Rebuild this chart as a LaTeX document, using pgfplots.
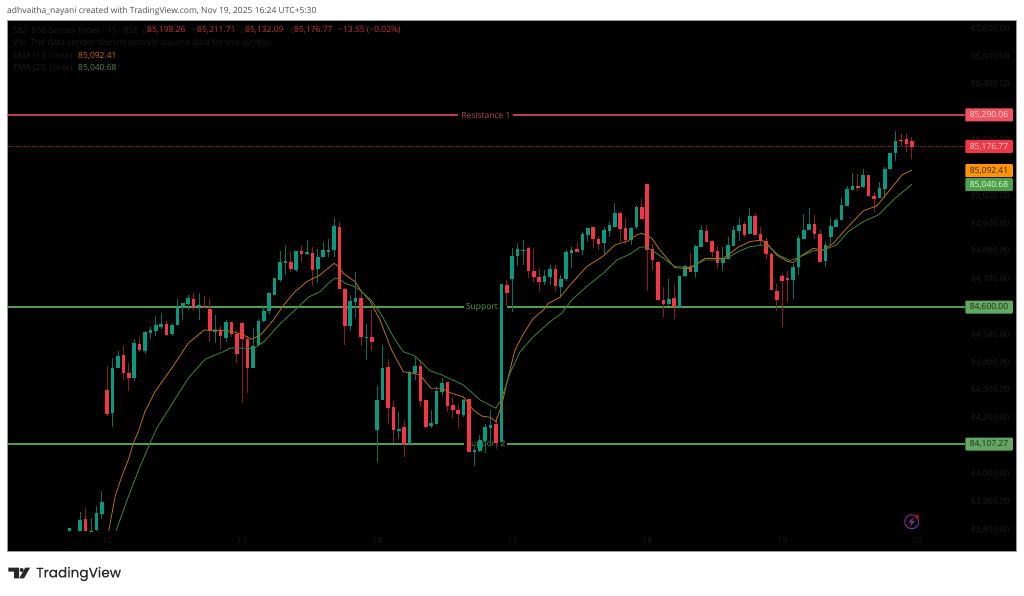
\documentclass[border=0pt]{standalone}
\usepackage{fontspec}
\usepackage{pgfplots}
\usepackage{pgfplotstable}
\pgfplotsset{compat=1.18}
\setmainfont{Open Sans}
\newfontfamily\tvfont[FakeBold=0.25]{Poppins}

\definecolor{upbody}{HTML}{089981}
\definecolor{upwick}{HTML}{0A6E5E}
\definecolor{dnbody}{HTML}{F23645}
\definecolor{dnwick}{HTML}{8E1A28}
\definecolor{emaA}{HTML}{B0690F}
\definecolor{emaB}{HTML}{3C7D36}
\definecolor{resline}{HTML}{C23A4E}
\definecolor{supline}{HTML}{4F9F4F}
\definecolor{dim}{HTML}{1C1C1C}
\definecolor{badge}{HTML}{7B2A8F}

% x = bar number (15 min bars, 25 a day, 0 = open of the 12th)
\pgfplotstableread{
x o h l c
-7 83795 83806 83795 83806
-5 83795 83864 83795 83837
-3 83795 83843 83795 83798
-2 83801 83885 83795 83862
-1 83856 83938 83837 83900
1 84220 84416 84168 84381
2 84381 84443 84381 84424
5 84344 84484 84335 84472
7 84443 84515 84431 84511
8 84509 84529 84485 84517
9 84514 84568 84498 84535
10 84531 84577 84521 84542
12 84503 84544 84496 84535
13 84536 84629 84536 84601
14 84601 84617 84553 84613
15 84611 84644 84589 84635
17 84603 84649 84553 84607
20 84515 84571 84470 84517
22 84491 84553 84475 84547
27 84384 84523 84383 84463
28 84463 84556 84461 84551
29 84551 84601 84547 84587
30 84587 84655 84577 84649
31 84643 84705 84643 84705
32 84700 84801 84691 84763
33 84757 84823 84715 84766
35 84736 84801 84727 84801
37 84791 84841 84787 84799
39 84737 84809 84687 84781
40 84779 84835 84779 84805
41 84800 84847 84781 84805
42 84805 84919 84781 84891
45 84532 84643 84515 84623
46 84620 84727 84563 84632
48 84491 84541 84410 84493
50 84160 84316 84044 84266
51 84266 84463 84266 84383
54 84155 84224 84128 84164
56 84108 84373 84108 84367
57 84364 84419 84338 84388
60 84173 84230 84167 84185
61 84182 84314 84182 84299
62 84297 84346 84280 84327
66 84215 84272 84206 84269
68 84080 84098 84030 84086
69 84082 84140 84080 84124
70 84118 84182 84076 84170
71 84166 84230 84110 84176
73 84114 84683 84114 84683
75 84701 84811 84583 84784
76 84783 84831 84747 84809
77 84805 84844 84751 84807
81 84689 84733 84679 84711
82 84708 84751 84679 84738
84 84672 84715 84640 84703
85 84701 84805 84693 84797
86 84795 84817 84739 84807
88 84805 84871 84787 84862
89 84858 84886 84835 84883
92 84829 84889 84789 84877
93 84874 84907 84853 84895
94 84889 84976 84889 84939
97 84841 84889 84823 84884
98 84889 84967 84883 84961
104 84613 84701 84604 84631
106 84599 84711 84599 84711
107 84711 84751 84709 84747
109 84725 84823 84703 84820
110 84817 84895 84817 84876
114 84759 84815 84729 84777
115 84775 84853 84775 84823
116 84820 84891 84820 84876
117 84873 84922 84838 84896
119 84865 84958 84865 84927
127 84697 84755 84629 84745
128 84743 84861 84715 84847
129 84847 84937 84847 84879
130 84879 84958 84877 84898
133 84766 84835 84743 84823
134 84853 84922 84823 84891
135 84889 84922 84889 84915
136 84913 84991 84913 84967
137 84964 85035 84964 85024
138 85019 85080 85019 85035
140 85032 85095 85029 85074
143 84994 85050 84994 85027
144 85027 85102 84991 85096
145 85096 85154 85092 85154
146 85153 85236 85128 85199
}\upbars

\pgfplotstableread{
x o h l c
-4 83838 83878 83795 83795
0 84302 84388 84208 84218
3 84426 84462 84338 84364
4 84366 84400 84299 84347
6 84468 84488 84437 84445
11 84540 84551 84497 84502
16 84628 84653 84587 84599
18 84606 84642 84596 84600
19 84596 84628 84474 84517
21 84517 84533 84450 84497
23 84547 84547 84493 84503
24 84505 84517 84398 84431
25 84545 84545 84254 84485
26 84485 84496 84292 84382
34 84764 84799 84727 84739
36 84801 84825 84761 84791
38 84795 84817 84675 84733
43 84889 84904 84664 84664
44 84664 84671 84463 84532
47 84632 84655 84460 84491
49 84493 84589 84443 84475
52 84385 84415 84182 84238
53 84242 84263 84110 84158
55 84168 84194 84062 84110
58 84389 84409 84241 84263
59 84266 84268 84166 84170
63 84331 84331 84224 84244
64 84250 84277 84200 84230
65 84230 84248 84164 84215
67 84272 84272 84080 84080
72 84180 84206 84092 84110
74 84679 84697 84604 84651
78 84811 84815 84707 84730
79 84730 84811 84691 84707
80 84709 84741 84655 84691
83 84738 84751 84655 84675
87 84809 84835 84797 84799
90 84886 84886 84812 84844
91 84847 84856 84805 84829
95 84939 84943 84835 84883
96 84884 84919 84826 84841
99 84958 84988 84916 84916
100 85042 85042 84659 84807
101 84811 84829 84729 84769
102 84762 84762 84625 84625
103 84625 84671 84565 84611
105 84631 84679 84559 84599
108 84747 84793 84727 84727
111 84874 84895 84835 84835
112 84838 84841 84781 84799
113 84801 84819 84739 84759
118 84898 84907 84853 84861
120 84927 84940 84859 84859
121 84864 84889 84823 84837
122 84838 84847 84773 84791
123 84793 84799 84664 84664
124 84658 84683 84587 84625
125 84711 84718 84527 84695
126 84704 84729 84619 84702
131 84898 84931 84847 84862
132 84865 84883 84763 84763
139 85035 85080 85017 85031
141 85074 85074 84996 85000
142 85000 85014 84942 84988
147 85200 85224 85179 85198
148 85204 85222 85158 85186
149 85198.26 85211.71 85132.09 85176.77
}\downbars

\pgfplotstableread{
x y
0.26 83795
1.43 83918
2.66 83990
3.89 84050
4.82 84110
5.74 84152
6.98 84224
8.84 84296
11.93 84380
15.0 84470
17.91 84517
20.87 84517
23.33 84511
25.18 84499
26.74 84484
28.46 84501
30.74 84553
32.91 84613
34.76 84655
36.93 84691
39.39 84715
41.24 84745
41.98 84757
42.78 84747
43.71 84721
45.87 84691
47.11 84655
48.64 84622
50.5 84553
52.66 84445
54.82 84367
56.05 84364
57.91 84356
59.94 84308
61.93 84308
63.77 84290
65.92 84277
67.78 84230
69.34 84208
70.87 84204
71.98 84188
73.04 84248
74.26 84349
75.5 84445
76.92 84499
78.89 84559
80.74 84589
81.67 84613
83.83 84635
85.69 84679
88.78 84745
91.84 84783
94.02 84823
96.48 84838
98.02 84859
98.96 84865
100.82 84847
102.35 84805
105.12 84741
107.9 84738
110.68 84775
114.07 84775
116.85 84815
119.02 84835
121.16 84841
122.41 84823
123.96 84787
125.82 84765
127.03 84759
128.27 84781
130.73 84811
132.59 84805
134.44 84829
136.92 84883
140.0 84946
142.48 84963
144.94 85021
147.11 85074
149 85092.41
}\emafast

\pgfplotstableread{
x y
1.62 83795
3.89 83918
6.05 84026
7.91 84110
9.14 84164
12.23 84259
15.0 84344
18.09 84412
21.48 84439
22.73 84452
25.18 84452
27.03 84450
29.02 84475
31.61 84532
35.07 84595
37.23 84635
39.39 84655
41.24 84691
42.16 84703
43.09 84700
44.02 84685
45.87 84673
47.11 84655
48.83 84625
50.82 84571
52.96 84493
54.82 84439
56.98 84424
59.76 84371
61.93 84356
65.92 84320
69.02 84266
71.98 84236
73.04 84272
74.57 84362
76.43 84439
78.89 84493
81.98 84547
84.14 84577
86.0 84625
89.07 84679
91.84 84721
94.34 84769
96.79 84790
98.64 84815
99.89 84815
101.73 84793
105.12 84745
107.9 84742
110.68 84769
114.07 84769
117.16 84802
119.02 84817
121.48 84823
122.72 84815
124.25 84787
126.43 84767
127.66 84775
130.73 84802
132.59 84805
135.07 84823
137.21 84871
140.0 84907
142.78 84931
145.55 84985
149 85040.68
}\emaslow

\pgfplotsset{
  wicks/.style={draw=none, no markers, forget plot,
    error bars/.cd, y dir=both, y explicit, error mark=none,
    error bar style={color=#1, solid, line width=0.9pt}},
  bodies/.style={draw=none, no markers, forget plot,
    error bars/.cd, y dir=both, y explicit, error mark=none,
    error bar style={color=#1, solid, line width=3.6pt}},
}

\begin{document}
\begin{tikzpicture}[x=1pt,y=1pt]
\fill[white] (0,0) rectangle (1024,595);

\begin{axis}[
  at={(7.5pt,44pt)}, anchor=south west,
  scale only axis, width=1009pt, height=531pt,
  xmin=-18.48, xmax=168.37, ymin=83722.9, ymax=85631.6,
  axis background/.style={fill=black},
  axis line style={draw=gray!80, line width=0.8pt},
  major tick length=0pt,
  xtick={0,25,50,75,100,125,150},
  xticklabels={12,13,14,17,18,19,20},
  ytick={83800,83900,84000,84200,84300,84400,84500,84700,84800,84900,85000,85200,85400,85500,85600},
  yticklabel pos=right,
  scaled y ticks=false,
  tick label style={font=\fontsize{8.5}{10}\selectfont, text=dim},
  yticklabel style={anchor=east, xshift=-3.5pt,
    /pgf/number format/fixed, /pgf/number format/fixed zerofill, /pgf/number format/precision=2,
    /pgf/number format/1000 sep={,}, /pgf/number format/assume math mode=true},
  xticklabel style={anchor=center, yshift=11pt},
]
% drawn levels
\addplot[resline, line width=1.2pt, forget plot] coordinates {(-18.48,85290.06) (64.94,85290.06)};
\addplot[resline, line width=1.2pt, forget plot] coordinates {(75.13,85290.06) (158.83,85290.06)};
\addplot[supline, line width=1.3pt, forget plot] coordinates {(-18.48,84600) (66.11,84600)};
\addplot[supline, line width=1.3pt, forget plot] coordinates {(74.02,84600) (158.83,84600)};
\addplot[supline, line width=1.3pt, forget plot] coordinates {(-18.48,84107.27) (66.11,84107.27)};
\addplot[supline, line width=1.3pt, forget plot] coordinates {(74.02,84107.27) (158.83,84107.27)};
\addplot[dnwick, line width=0.6pt, densely dotted, forget plot] coordinates {(-18.48,85176.77) (158.83,85176.77)};
\node[font=\fontsize{8.5}{10}\selectfont, text=resline!75!gray] at (axis cs:70.13,85290.06) {Resistance 1};
\node[font=\fontsize{8.5}{10}\selectfont, text=supline] at (axis cs:69.39,84600) {Support};
\node[font=\fontsize{8.5}{10}\selectfont, text=supline] at (axis cs:70.13,84107.27) {Support 2};
% candles
\addplot[wicks=upwick] table[x=x, y expr=(\thisrow{h}+\thisrow{l})/2, y error expr=(\thisrow{h}-\thisrow{l})/2] {\upbars};
\addplot[wicks=dnwick] table[x=x, y expr=(\thisrow{h}+\thisrow{l})/2, y error expr=(\thisrow{h}-\thisrow{l})/2] {\downbars};
\addplot[bodies=upbody] table[x=x, y expr=(\thisrow{o}+\thisrow{c})/2, y error expr=(\thisrow{c}-\thisrow{o})/2] {\upbars};
\addplot[bodies=dnbody] table[x=x, y expr=(\thisrow{o}+\thisrow{c})/2, y error expr=(\thisrow{o}-\thisrow{c})/2] {\downbars};
% moving averages
\addplot[emaA, line width=0.9pt, forget plot] table {\emafast};
\addplot[emaB, line width=0.9pt, forget plot] table {\emaslow};
\end{axis}

% page text, positions in pixels of the 1024x595 page
\node[anchor=west, inner sep=0pt, text=black!70, font=\fontsize{8.5}{11}\selectfont] at (7,584) {adhvaitha\_nayani created with TradingView.com, Nov 19, 2025 16:24 UTC+5:30};

\begin{scope}[every node/.style={anchor=west, inner sep=0pt, font=\fontsize{8.5}{10}\selectfont}]
\node[text=dim] at (13,565) {S\&P BSE Sensex Index · 15 · BSE};
\node[text=dim] at (142,565) {O};
\node[text=dnbody!85!black] at (147,565) {85,198.26};
\node[text=dim] at (192,565) {H};
\node[text=dnbody!85!black] at (197,565) {85,211.71};
\node[text=dim] at (240,565) {L};
\node[text=dnbody!85!black] at (245,565) {85,132.09};
\node[text=dim] at (290,565) {C};
\node[text=dnbody!85!black] at (294,565) {85,176.77};
\node[text=dnbody!85!black] at (338,565) {−13.55 (−0.02\%)};
\node[text=dim] at (13,552) {Vol: The data vendor doesn't provide volume data for this symbol.};
\node[text=dim] at (13,539.5) {EMA (13, close)};
\node[text=orange!80!black] at (78,539.5) {85,092.41};
\node[text=dim] at (13,527.5) {EMA (20, close)};
\node[text=emaB!90!white] at (78,527.5) {85,040.68};
\end{scope}

% price tags
\begin{scope}[every node/.style={inner sep=0pt, minimum width=47.5pt, minimum height=13pt, font=\fontsize{8.5}{10}\selectfont, rounded corners=1pt}]
\node[fill=dnbody!85!white, text=white!85!dnbody] at (989,480) {85,290.06};
\node[fill=dnbody, text=white!85!dnbody] at (989,448.5) {85,176.77};
\node[fill=orange!85!yellow, text=black!85] at (989,424.3) {85,092.41};
\node[fill=supline, text=white!85!green] at (989,410.4) {85,040.68};
\node[fill=supline!90!white, text=black!85] at (989,288) {84,600.00};
\node[fill=supline!90!white, text=black!85] at (989,151) {84,107.27};
\end{scope}

% bolt badge
\draw[badge, line width=1.1pt] (911.7,73.3) circle (7);
\fill[badge] (913.5,78) -- (908.5,72.5) -- (911.5,72.5) -- (910,68.5) -- (915,74) -- (912,74) -- cycle;
\fill[red] (917,78.3) circle (1.7);

% logo
\fill[black!85] (8.3,27.3) -- (19,27.3) -- (19,16.7) -- (14,16.7) -- (14,23.3) -- (8.3,23.3) -- cycle;
\fill[black!85] (21.7,25) circle (2);
\fill[black!85] (25.3,27.3) -- (30,27.3) -- (24,16.7) -- (19.3,16.7) -- cycle;
\node[anchor=west, inner sep=0pt, text=black!85, font=\tvfont\fontsize{13.7}{15}\selectfont] at (36,21) {TradingView};
\end{tikzpicture}
\end{document}
